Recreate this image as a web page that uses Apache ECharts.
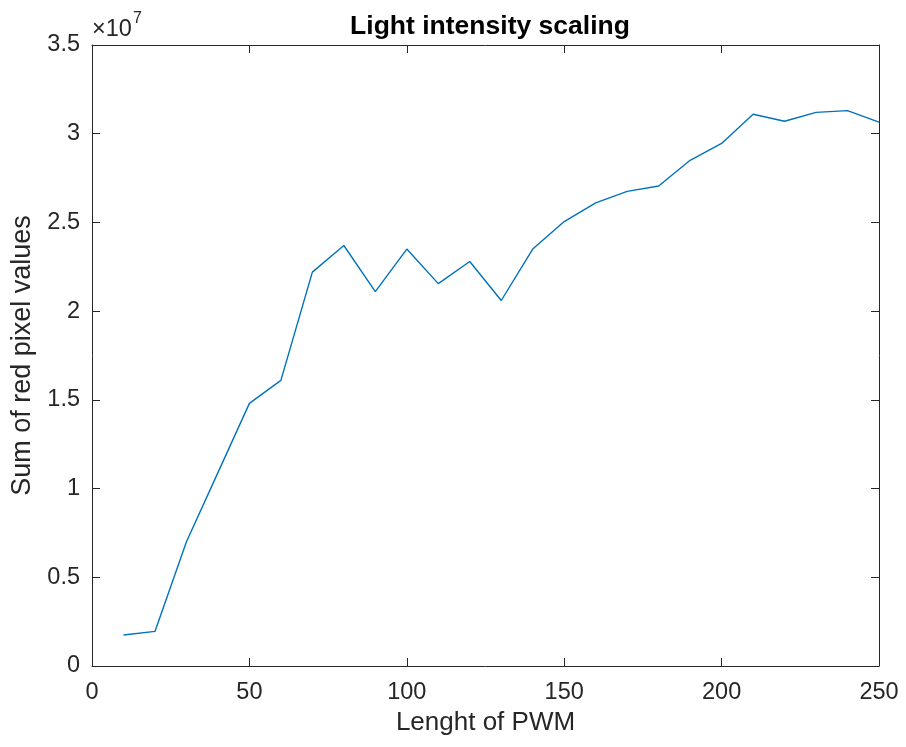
<!DOCTYPE html>
<html><head><meta charset="utf-8">
<script src="https://cdn.jsdelivr.net/npm/echarts@6/dist/echarts.min.js"></script>
<style>html,body{margin:0;padding:0;background:#fff}#c{width:906px;height:747px}</style>
</head><body><div id="c"></div>
<script>
const pwm = [10,20,30,40,50,60,70,80,90,100,110,120,130,140,150,160,170,180,190,200,210,220,230,240,250];
const redSum = [1.75e6,1.95e6,7.0e6,1.09e7,1.48e7,1.61e7,2.22e7,2.37e7,2.11e7,2.35e7,2.155e7,2.28e7,2.06e7,2.35e7,2.505e7,2.61e7,2.675e7,2.705e7,2.85e7,2.945e7,3.11e7,3.07e7,3.12e7,3.13e7,3.065e7];
const xTicks = [0,50,100,150,200,250];
const yTicks = [0,0.5e7,1e7,1.5e7,2e7,2.5e7,3e7,3.5e7];
const titleText = 'Light intensity scaling';
const xName = 'Lenght of PWM';
const yName = 'Sum of red pixel values';
const exponentBase = '×10';
const exponent = '7';

const fg = '#262626';
const font = 'Liberation Sans, Arial, sans-serif';
const chart = echarts.init(document.getElementById('c'));
const axisCommon = {
  axisLine:{show:true,onZero:false,lineStyle:{color:fg,width:1}},
  axisTick:{show:true,inside:true,length:8,lineStyle:{color:fg}},
  splitLine:{show:false}
};
chart.setOption({
  animation:false,
  title:{text:titleText,left:485,top:8,textAlign:'center',textStyle:{fontFamily:font,fontSize:26.5,fontWeight:'bold',color:'#000'}},
  grid:{left:92,right:27,top:45,bottom:81,containLabel:false},
  xAxis:[
    Object.assign({type:'value',min:xTicks[0],max:xTicks[xTicks.length-1],interval:50,position:'bottom',
      name:xName,nameLocation:'middle',nameGap:39,
      nameTextStyle:{fontFamily:font,fontSize:26,color:fg,verticalAlign:'top'},
      axisLabel:{fontFamily:font,fontSize:23.5,color:fg,margin:15}},axisCommon),
    Object.assign({type:'value',min:0,max:250,interval:50,position:'top',axisLabel:{show:false}},axisCommon)
  ],
  yAxis:[
    Object.assign({type:'value',min:yTicks[0],max:yTicks[yTicks.length-1],interval:0.5e7,position:'left',
      name:yName,nameLocation:'middle',nameGap:46,
      nameTextStyle:{fontFamily:font,fontSize:27,color:fg},
      axisLabel:{fontFamily:font,fontSize:23.5,color:fg,margin:12,formatter:v=>String(+(v/1e7).toFixed(1))}},axisCommon),
    Object.assign({type:'value',min:0,max:3.5e7,interval:0.5e7,position:'right',axisLabel:{show:false}},axisCommon)
  ],
  graphic:[
    {type:'text',left:92,top:18,style:{text:exponentBase,font:'23.5px "Liberation Sans", Arial, sans-serif',fill:fg}},
    {type:'text',left:133,top:11,style:{text:exponent,font:'16px "Liberation Sans", Arial, sans-serif',fill:fg}}
  ],
  series:[{type:'line',data:pwm.map((x,i)=>[x,redSum[i]]),showSymbol:false,
    lineStyle:{color:'#0072BD',width:1.4},itemStyle:{color:'#0072BD'}}]
});
</script></body></html>
